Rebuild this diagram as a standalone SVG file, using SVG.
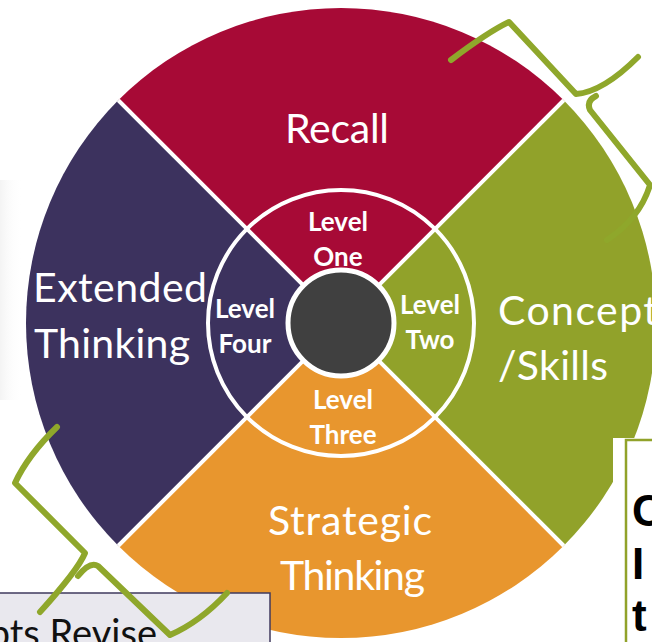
<svg xmlns="http://www.w3.org/2000/svg" width="652" height="642" viewBox="0 0 652 642">
  <defs>
    <linearGradient id="shade" x1="0" y1="0" x2="1" y2="0">
      <stop offset="0" stop-color="#ececec"/>
      <stop offset="1" stop-color="#ffffff" stop-opacity="0"/>
    </linearGradient>
    <style>
      .big { font-family: Lato, "Open Sans", "Liberation Sans", sans-serif; font-size: 41px; fill: #ffffff; }
      .lvl { font-family: Lato, "Open Sans", "Liberation Sans", sans-serif; font-size: 26px; font-weight: bold; fill: #ffffff; text-anchor: middle; }
      .div { stroke: #ffffff; stroke-width: 4; fill: none; }
      .brace { stroke: #8fa72b; stroke-width: 6; fill: none; stroke-linecap: round; stroke-linejoin: round; }
      .boxtext { font-family: "Liberation Sans", Arial, sans-serif; font-size: 44px; font-weight: bold; fill: #000000; }
    </style>
  </defs>
  <rect x="0" y="0" width="652" height="642" fill="#ffffff"/>
  <rect x="0" y="180" width="22" height="220" fill="url(#shade)" opacity="0.6"/>

  <g id="recall">
    <path d="M341,323 L118.26,100.26 A315,315 0 0 1 563.74,100.26 Z" fill="#a70a36"/>
    <text class="big" x="285" y="143" textLength="104">Recall</text>
  </g>
  <g id="concept-skills">
    <path d="M341,323 L563.74,100.26 A315,315 0 0 1 563.74,545.74 Z" fill="#91a22a"/>
    <text class="big" x="498" y="325" textLength="160">Concept</text>
    <text class="big" x="498" y="380" textLength="110">/Skills</text>
  </g>
  <g id="strategic-thinking">
    <path d="M341,323 L563.74,545.74 A315,315 0 0 1 118.26,545.74 Z" fill="#e8962e"/>
    <text class="big" x="268" y="535" textLength="164">Strategic</text>
    <text class="big" x="280" y="590" textLength="145">Thinking</text>
  </g>
  <g id="extended-thinking">
    <path d="M341,323 L118.26,545.74 A315,315 0 0 1 118.26,100.26 Z" fill="#3c325e"/>
    <text class="big" x="33" y="302" textLength="174">Extended</text>
    <text class="big" x="34" y="358" textLength="156">Thinking</text>
  </g>

  <g id="dividers">
    <line class="div" x1="118.26" y1="100.26" x2="563.74" y2="545.74"/>
    <line class="div" x1="563.74" y1="100.26" x2="118.26" y2="545.74"/>
    <circle class="div" cx="341" cy="323" r="133" stroke-width="4.5"/>
  </g>

  <g id="center">
    <circle cx="341" cy="323" r="53" fill="#404040" stroke="#ffffff" stroke-width="5"/>
  </g>

  <g id="level-one">
    <text class="lvl" x="338" y="231">Level</text>
    <text class="lvl" x="338" y="266">One</text>
  </g>
  <g id="level-two">
    <text class="lvl" x="430" y="314">Level</text>
    <text class="lvl" x="430" y="349">Two</text>
  </g>
  <g id="level-three">
    <text class="lvl" x="343" y="409">Level</text>
    <text class="lvl" x="343" y="444">Three</text>
  </g>
  <g id="level-four">
    <text class="lvl" x="245" y="318">Level</text>
    <text class="lvl" x="245" y="353">Four</text>
  </g>

  <g id="box-left">
    <rect x="-2" y="593" width="272" height="60" fill="#e9e8ee" stroke="#3f3a5e" stroke-width="1.5"/>
    <text x="157" y="647" text-anchor="end" font-family="Lato, 'Open Sans', sans-serif" font-size="38" fill="#111111">pts Revise</text>
  </g>

  <g id="box-right">
    <rect x="613" y="438" width="45" height="210" fill="#ffffff"/>
    <path d="M626,650 L626,440 L656,440" fill="none" stroke="#91a22a" stroke-width="2.5"/>
    <text class="boxtext" x="632" y="526">C</text>
    <text class="boxtext" x="632" y="579">I</text>
    <text class="boxtext" x="632" y="631">t</text>
  </g>

  <g id="connectors">
    <path class="brace" d="M451,60 Q488,32 509,22 L576,94 Q603,92 638,57"/>
    <path class="brace" d="M596,96 Q586,101 590,110 L650,185 Q640,218 607,240"/>
    <path class="brace" d="M57,427 Q28,455 15,483 L85,553 Q78,570 40,612"/>
    <path class="brace" d="M78,576 Q90,561 98,566 L170,635 Q200,622 227,593"/>
  </g>
</svg>
